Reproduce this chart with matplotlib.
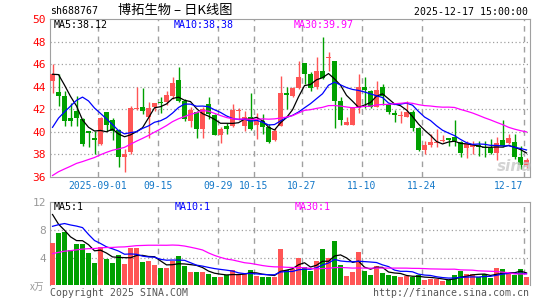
import numpy as np
import pandas as pd
import matplotlib
matplotlib.use("Agg")
import matplotlib.pyplot as plt
from matplotlib.transforms import blended_transform_factory

# daily candles 2025-08-20 .. 2025-12-17 (80 sessions)
opens = [44.53, 43.56, 43.21, 41.24, 41.82, 41.18, 40.06, 39.44, 38.88, 41.79,
         41.09, 40.18, 37.76, 38.21, 42.00, 42.18, 41.35, 42.24, 42.60, 42.62,
         43.21, 44.62, 42.76, 41.00, 41.74, 40.21, 42.47, 41.53, 39.76, 40.53,
         40.50, 41.85, 40.56, 41.35, 40.65, 41.00, 40.41, 39.26, 40.56, 43.41,
         43.15, 43.85, 46.06, 45.12, 43.94, 45.41, 46.53, 46.24, 42.76, 40.65,
         40.65, 42.12, 44.00, 43.59, 42.24, 44.00, 42.47, 41.71, 41.40, 41.35,
         41.74, 40.35, 38.38, 38.82, 39.05, 39.20, 39.50, 39.53, 39.09, 38.59,
         38.65, 38.80, 38.70, 38.59, 38.12, 39.24, 39.00, 39.06, 37.79, 37.06]
highs = [46.00, 45.12, 43.65, 42.53, 43.21, 41.25, 40.10, 40.12, 41.30, 41.80,
         41.24, 40.26, 38.50, 42.32, 44.00, 43.85, 42.62, 42.60, 43.06, 43.65,
         44.82, 45.76, 42.90, 42.18, 41.88, 42.24, 43.12, 41.60, 40.41, 40.76,
         42.47, 42.12, 41.88, 43.41, 41.71, 41.59, 40.74, 40.35, 44.91, 43.94,
         43.94, 46.29, 46.06, 45.32, 46.59, 48.41, 47.12, 46.30, 43.06, 41.29,
         42.24, 45.12, 44.82, 43.70, 44.53, 44.24, 42.60, 41.94, 41.88, 42.76,
         41.94, 40.40, 39.18, 39.82, 40.21, 39.76, 39.50, 41.06, 39.15, 39.20,
         39.20, 39.20, 39.20, 39.38, 39.53, 41.06, 39.82, 39.82, 38.79, 37.70]
lows = [43.41, 42.32, 40.56, 40.56, 40.56, 38.79, 38.65, 38.00, 38.80, 40.12,
        39.24, 36.88, 36.44, 38.06, 41.95, 41.59, 39.47, 41.82, 41.68, 42.35,
        42.91, 42.62, 40.94, 40.41, 39.44, 39.44, 41.15, 39.70, 39.00, 39.82,
        40.40, 41.06, 40.12, 40.20, 39.38, 39.85, 39.00, 39.20, 40.50, 42.06,
        43.06, 43.80, 44.24, 43.65, 43.80, 44.70, 45.41, 40.32, 40.65, 40.60,
        40.60, 41.65, 42.12, 42.12, 42.20, 42.41, 41.60, 40.85, 40.82, 41.30,
        40.12, 38.30, 38.00, 38.65, 38.70, 39.10, 38.79, 38.79, 37.76, 37.65,
        38.00, 37.90, 37.80, 38.00, 37.53, 38.65, 38.88, 37.56, 36.68, 36.80]
closes = [45.12, 43.15, 40.94, 41.00, 41.24, 38.94, 39.90, 39.30, 41.24, 40.65,
          40.12, 37.76, 38.06, 42.09, 42.06, 41.88, 42.12, 42.53, 42.55, 43.29,
          44.29, 42.71, 41.15, 41.97, 40.21, 42.03, 41.59, 39.76, 40.21, 40.21,
          41.97, 41.90, 41.35, 40.21, 41.00, 40.41, 39.09, 40.12, 43.41, 43.30,
          43.85, 44.82, 45.12, 43.88, 45.41, 44.76, 46.65, 42.76, 41.09, 40.91,
          42.18, 43.94, 43.74, 42.24, 43.71, 43.21, 41.74, 41.47, 41.45, 41.79,
          40.35, 38.38, 38.82, 39.09, 39.09, 39.26, 39.24, 39.18, 38.12, 38.88,
          38.85, 38.70, 38.60, 38.12, 39.03, 38.79, 39.47, 37.79, 37.06, 37.53]
volumes = [6.09, 7.52, 7.66, 5.04, 5.90, 6.00, 4.66, 3.23, 5.52, 3.80,
           3.23, 4.33, 3.04, 5.43, 5.43, 3.33, 3.52, 2.90, 2.43, 2.52,
           3.48, 4.19, 2.76, 1.95, 1.95, 1.95, 1.62, 1.24, 1.24, 1.43,
           2.19, 1.62, 1.62, 2.19, 1.33, 1.24, 1.14, 1.14, 5.19, 2.19,
           2.29, 4.00, 2.57, 2.10, 3.48, 5.19, 3.95, 6.38, 2.90, 1.33,
           1.95, 4.81, 2.05, 1.48, 2.76, 1.81, 1.48, 1.33, 1.14, 1.33,
           1.24, 1.43, 0.76, 0.90, 0.90, 0.62, 0.76, 1.43, 2.10, 1.62,
           1.62, 1.14, 1.62, 1.10, 2.43, 2.29, 1.71, 1.48, 2.29, 1.14]

# the 29 sessions before the window, only used to seed the moving averages
prev_closes = [33.2, 33.5, 33.9, 33.6, 34.1, 34.4, 34.0, 33.8, 34.3, 34.6,
               34.2, 33.9, 33.7, 34.0, 34.5, 34.3, 33.8, 34.1, 34.2, 33.9,
               35.0, 35.4, 35.9, 36.1, 36.1, 43.3, 45.6, 46.0, 45.5]
prev_volumes = [2.2, 2.5, 2.8, 2.4, 2.6, 3.0, 2.7, 2.3, 2.5, 2.9,
                2.6, 2.4, 2.8, 2.7, 2.5, 2.6, 2.9, 2.4, 2.7, 2.5,
                5.2, 6.0, 7.1, 7.5, 8.2, 14.5, 12.0, 9.8, 8.6]

tick_idx = [8, 18, 28, 34, 42, 52, 62, 79]
tick_labels = ["2025-09-01", "09-15", "09-29", "10-15", "10-27", "11-10", "11-24", "12-17"]

RED = "#ff5555"
GREEN = "#00a000"
GRID = "#a0a0a0"
MONO = "DejaVu Sans Mono"
CJK = ["Noto Sans CJK SC", "DejaVu Sans"]

n = len(closes)
x = np.arange(n)
o = np.array(opens)
c = np.array(closes)
colors = np.where(c >= o, RED, GREEN)

allc = pd.Series(prev_closes + closes)
allv = pd.Series(prev_volumes + volumes)
k = len(prev_closes)
ma = {w: allc.rolling(w).mean().values[k:] for w in (5, 10, 30)}
mav = {w: allv.rolling(w).mean().values[k:] for w in (5, 10, 30)}
ma_colors = {5: "black", 10: "#0000ff", 30: "#ff00ff"}

W, H = 545, 300
fig = plt.figure(figsize=(W / 100, H / 100), dpi=100)
fig.patch.set_facecolor("white")


def px_axes(l, t, r, b):
    return fig.add_axes([l / W, 1 - b / H, (r - l) / W, (b - t) / H])


ax = px_axes(50, 19, 530, 177)
axv = px_axes(50, 202, 530, 285.3)
grid_x = [i - 0.42 for i in tick_idx]

for a in (ax, axv):
    a.set_xlim(-0.42, n - 0.42)
    a.set_xticks([])
    for s in a.spines.values():
        s.set_color(GRID)
        s.set_linewidth(0.8)
    for gx in grid_x:
        a.axvline(gx, color=GRID, lw=1.0, ls=(0, (4, 3.5)), zorder=0)
axv.spines["bottom"].set_visible(False)

# price panel
ax.set_ylim(36, 50)
ax.set_yticks(np.arange(36, 51, 2))
ax.set_yticklabels([str(v) for v in range(36, 51, 2)], color="#ff0000",
                   fontsize=8, family=MONO)
ax.tick_params(axis="y", length=0, pad=3)
for gy in range(38, 50, 2):
    ax.axhline(gy, color=GRID, lw=0.9, ls=(0, (1, 2)), zorder=0)

ax.vlines(x, lows, highs, colors=colors, lw=1.0, zorder=2)
body_lo = np.minimum(o, c)
body_h = np.maximum(np.abs(c - o), 0.07)
ax.bar(x, body_h, bottom=body_lo, width=0.8, color=colors, lw=0, zorder=3)
for w in (5, 10, 30):
    ax.plot(x, ma[w], color=ma_colors[w], lw=0.9, zorder=4)

tr = blended_transform_factory(ax.transData, ax.transAxes)
for gx, lab in zip(grid_x, tick_labels):
    if lab == tick_labels[-1]:
        ax.text(gx - 0.1, -0.058, lab, transform=tr, ha="right", va="center",
                color="#1478c8", fontsize=7, family=MONO)
    else:
        ax.text(gx, -0.058, lab, transform=tr, ha="center", va="center",
                color="#1478c8", fontsize=7, family=MONO)

# watermark
ax.text(0.93, 0.04, "sina", transform=ax.transAxes, fontsize=11,
        style="italic", weight="bold", color="#c8c8c8", alpha=0.8)

# volume panel
axv.set_ylim(0, 12)
axv.set_yticks([4, 8, 12])
axv.set_yticklabels(["4", "8", "12"], color="#999999", fontsize=8, family=MONO)
axv.tick_params(axis="y", length=0, pad=3)
for gy in (4, 8):
    axv.axhline(gy, color=GRID, lw=0.9, ls=(0, (1, 2)), zorder=0)
axv.bar(x, volumes, width=0.8, color=colors, lw=0, zorder=3)
for w in (5, 10, 30):
    axv.plot(x, mav[w], color=ma_colors[w], lw=0.9, zorder=4)

# header and labels
fig.text(50 / W, 1 - 11.5 / H, "sh688767", fontsize=7.1, family=MONO, va="center")
fig.text(118 / W, 1 - 10 / H, "博拓生物 – 日K线图", fontsize=9.5, family=CJK, va="center")
fig.text(528 / W, 1 - 12 / H, "2025-12-17 15:00:00", fontsize=7.1, family=MONO,
         va="center", ha="right")
fig.text(54 / W, 1 - 24.5 / H, "MA5:38.12", fontsize=7.2, family=MONO, va="center", color="black")
fig.text(174 / W, 1 - 24.5 / H, "MA10:38.38", fontsize=7.2, family=MONO, va="center", color="#0000ff")
fig.text(294 / W, 1 - 24.5 / H, "MA30:39.97", fontsize=7.2, family=MONO, va="center", color="#ff00ff")

fig.text(54 / W, 1 - 206.5 / H, "MA5:1", fontsize=7.2, family=MONO, va="center", color="black")
fig.text(175 / W, 1 - 206.5 / H, "MA10:1", fontsize=7.2, family=MONO, va="center", color="#0000ff")
fig.text(295 / W, 1 - 206.5 / H, "MA30:1", fontsize=7.2, family=MONO, va="center", color="#ff00ff")
fig.text(44 / W, 1 - 287 / H, "x万", fontsize=7, family=CJK, va="center", ha="right",
         color="#999999")

fig.text(50 / W, 1 - 292.5 / H, "Copyright 2025 SINA.COM", fontsize=7.1, family=MONO,
         va="center", color="#555555")
fig.text(529 / W, 1 - 292.5 / H, "http://finance.sina.com.cn", fontsize=7.1, family=MONO,
         va="center", ha="right", color="#555555")

fig.savefig("out.png", dpi=100, facecolor="white")
